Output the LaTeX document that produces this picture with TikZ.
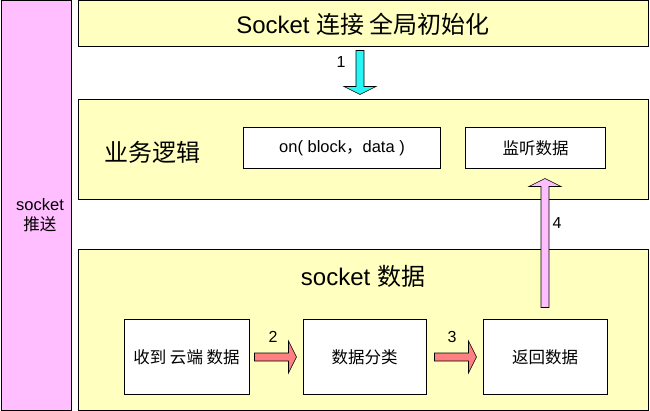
\documentclass[tikz,border=0pt]{standalone}
\usepackage{fontspec}
\setmainfont{Liberation Sans}
\newfontfamily\cjk{Noto Sans CJK SC}
\usetikzlibrary{positioning,calc}

\definecolor{panelyellow}{RGB}{255,255,192}
\definecolor{sidepink}{RGB}{255,190,255}
\definecolor{arrowcyan}{RGB}{40,245,245}
\definecolor{arrowred}{RGB}{255,128,128}

% fat block arrow: from, to, fill
\newcommand{\fatarrow}[3]{%
  \draw[fill=#3,line width=0.6pt,line join=miter] let \p1=(#1), \p2=(#2),
    \n1={atan2(\y2-\y1,\x2-\x1)}, \n2={veclen(\x2-\x1,\y2-\y1)} in
    [shift={(\p1)},rotate=\n1]
    (0pt,-4pt) -- ({\n2*1pt-8pt},-4pt) -- ({\n2*1pt-8pt},-16pt) -- ({\n2*1pt},0pt)
    -- ({\n2*1pt-8pt},16pt) -- ({\n2*1pt-8pt},4pt) -- (0pt,4pt) -- cycle;}

\begin{document}
\begin{tikzpicture}[x=1pt,y=-1pt,line width=1pt]

  \tikzstyle{panel}=[rectangle,draw=black,fill=panelyellow,minimum width=570pt,inner sep=0pt]
  \tikzstyle{box}=[rectangle,draw=black,fill=white,minimum height=41pt,inner sep=0pt,font=\fontsize{16.5}{19}\selectfont]
  \tikzstyle{step box}=[box,minimum width=124pt,minimum height=74pt]
  \tikzstyle{heading}=[font=\fontsize{24}{28}\selectfont]
  \tikzstyle{num}=[font=\fontsize{16}{19}\selectfont]

  \useasboundingbox (0,0) rectangle (650,411);

  \node [rectangle,draw=black,fill=sidepink,minimum width=70pt,minimum height=409pt] (side) at (36,205.5) {};
  \node [align=center,font=\fontsize{16.5}{20}\selectfont] (sidetext) at (40,215) {socket\\{\cjk 推送}};

  \node [panel,minimum height=46pt,heading] (top) at (363,24) {Socket {\cjk 连接 全局初始化}};
  \node [panel,minimum height=100pt] (biz) at (363,150) {};
  \node [panel,minimum height=160pt] (sock) at (363,330) {};

  \node [heading] (biztitle) at (152,152) {\cjk 业务逻辑};
  \node [box,minimum width=197pt] (on) at (342,148.5) {on( block{\cjk ，}data )};
  \node [box,minimum width=140pt] (listen) [right=24pt of on] {\cjk 监听数据};

  \node [heading] (socktitle) at (363,276) {socket {\cjk 数据}};
  \node [step box,minimum width=125pt] (recv) at (186.5,357) {\cjk 收到 云端 数据};
  \node [step box,minimum width=123pt] (sort) [right=53pt of recv] {\cjk 数据分类};
  \node [step box] (ret) [right=56pt of sort] {\cjk 返回数据};

  \fatarrow{$(top.south)+(-3,3)$}{$(biz.north)+(-3,-5)$}{arrowcyan}
  \fatarrow{$(recv.east)+(5,0)$}{$(sort.west)+(-6,0)$}{arrowred}
  \fatarrow{$(sort.east)+(8,0)$}{$(ret.west)+(-6,0)$}{arrowred}
  \fatarrow{$(ret.north)+(0,-12)$}{$(ret.north |- listen.south)+(0,9)$}{sidepink}

  \node [num] (n1) at (341,62) {1};
  \node [num] (n2) at (273,337) {2};
  \node [num] (n3) at (452,337) {3};
  \node [num] (n4) at (557,223) {4};

\end{tikzpicture}
\end{document}
